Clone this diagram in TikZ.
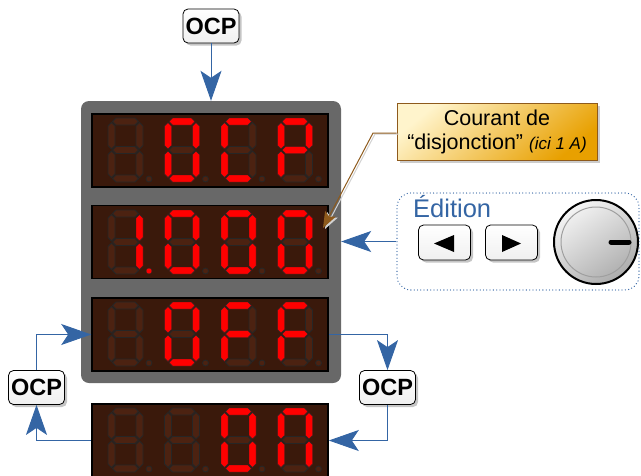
\documentclass[tikz,border=0pt]{standalone}
\usepackage{fontspec}
\setmainfont{Liberation Sans}
\usetikzlibrary{arrows.meta,shadows,calc}
\definecolor{lblue}{HTML}{3465A4}
\definecolor{dispbg}{HTML}{3A190B}
\definecolor{segoffc}{HTML}{4C2211}
\definecolor{segline}{HTML}{262626}
\definecolor{panelgray}{HTML}{686868}
\definecolor{callbrown}{HTML}{8E5A1C}
\definecolor{calllight}{HTML}{FFF4CC}
\definecolor{calldark}{HTML}{E8A000}
\tikzset{
  s0/.style={fill=segoffc, draw=segline, line width=0.8pt},
  s1/.style={fill=red, draw=segline, line width=0.4pt},
  panelbox/.style={fill=panelgray, rounded corners=8pt, minimum width=260pt, minimum height=282pt, inner sep=0pt},
  dispbox/.style={fill=dispbg, draw=black, line width=1.6pt, minimum width=236pt, minimum height=73pt, inner sep=0pt},
  btn/.style={draw=black, line width=0.8pt, top color=white, bottom color=gray!12, rounded corners=5pt,
    drop shadow={shadow xshift=2.5pt, shadow yshift=-2.5pt, fill=black!45}},
  ocp/.style={btn, font=\fontsize{23.5}{23.5}\selectfont\bfseries, minimum width=56pt, minimum height=34pt, inner sep=0pt},
  arrbtn/.style={btn, minimum width=52pt, minimum height=35pt, inner sep=0pt},
  conn/.style={draw=lblue, line width=0.9pt, -{Stealth[length=30pt,width=21pt,inset=7pt,fill=lblue]}},
  callbox/.style={draw=callbrown, line width=0.8pt, top color=calllight, bottom color=calldark, shading angle=40,
    minimum width=200pt, minimum height=57pt, inner sep=0pt, align=center,
    font=\fontsize{21.5}{24}\selectfont,
    drop shadow={shadow xshift=2.5pt, shadow yshift=-2.5pt, fill=black!40}},
  callarrow/.style={draw=callbrown, line width=1pt, -{Stealth[length=16pt,width=12pt,inset=3pt,fill=callbrown]}},
  callshadow/.style={draw=gray!35, line width=1pt, -{Stealth[length=16pt,width=12pt,inset=3pt,fill=gray!35]},
    transform canvas={xshift=2pt,yshift=-1pt}},
  editbox/.style={draw=lblue, line width=1.3pt, dash pattern=on 0pt off 3.3pt, line cap=round, rounded corners=14pt,
    minimum width=242pt, minimum height=97pt, inner sep=0pt},
}
\newcommand\hseg[4]{\path[#1] (#2,#4) -- (#2+3.5,#4-3.5) -- (#3-3.5,#4-3.5) -- (#3,#4) -- (#3-3.5,#4+3.5) -- (#2+3.5,#4+3.5) -- cycle;}
\newcommand\vseg[4]{\path[#1] (#2,#3) -- (#2+3.5,#3+3.5) -- (#2+3.5,#4-3.5) -- (#2,#4) -- (#2-3.5,#4-3.5) -- (#2-3.5,#3+3.5) -- cycle;}
\newcommand\sdigit[9]{%
  \begin{scope}[shift={(#1,#2)}]
    \hseg{s#3}{4.5}{30.5}{3.5}
    \vseg{s#4}{31.5}{4.5}{31}
    \vseg{s#5}{31.5}{33}{59.5}
    \hseg{s#6}{4.5}{30.5}{60.5}
    \vseg{s#7}{3.5}{33}{59.5}
    \vseg{s#8}{3.5}{4.5}{31}
    \hseg{s#9}{4.5}{30.5}{32}
  \end{scope}}
\newcommand\sdp[3]{\path[s#3] (#1+41,#2+61) circle[radius=3pt];}
\begin{document}
\begin{tikzpicture}[x=1pt,y=-1pt]
\useasboundingbox (0,0) rectangle (641,475);
% panel and displays
\node[panelbox] (panel) at (211,242) {};
\node[dispbox] (d1) at (210,150.5) {};
\node[dispbox] (d2) at (210,242) {};
\node[dispbox] (d3) at (210,334.5) {};
\node[dispbox] (d4) at (210,440.5) {};
% row 1 : OCP
\sdigit{108}{118}{0}{0}{0}{0}{0}{0}{0}
\sdigit{164.5}{118}{1}{1}{1}{1}{1}{1}{0}
\sdigit{221}{118}{1}{0}{0}{1}{1}{1}{0}
\sdigit{277.5}{118}{1}{1}{0}{0}{1}{1}{1}
\sdp{108}{118}{0}\sdp{164.5}{118}{0}\sdp{221}{118}{0}\sdp{277.5}{118}{0}
% row 2 : 1.000
\sdigit{108}{210}{0}{1}{1}{0}{0}{0}{0}
\sdigit{164.5}{210}{1}{1}{1}{1}{1}{1}{0}
\sdigit{221}{210}{1}{1}{1}{1}{1}{1}{0}
\sdigit{277.5}{210}{1}{1}{1}{1}{1}{1}{0}
\sdp{108}{210}{1}\sdp{164.5}{210}{0}\sdp{221}{210}{0}\sdp{277.5}{210}{0}
% row 3 : OFF
\sdigit{108}{302}{0}{0}{0}{0}{0}{0}{0}
\sdigit{164.5}{302}{1}{1}{1}{1}{1}{1}{0}
\sdigit{221}{302}{1}{0}{0}{0}{1}{1}{1}
\sdigit{277.5}{302}{1}{0}{0}{0}{1}{1}{1}
\sdp{108}{302}{0}\sdp{164.5}{302}{0}\sdp{221}{302}{0}\sdp{277.5}{302}{0}
% row 4 : ON
\sdigit{108}{408}{0}{0}{0}{0}{0}{0}{0}
\sdigit{164.5}{408}{0}{0}{0}{0}{0}{0}{0}
\sdigit{221}{408}{1}{1}{1}{1}{1}{1}{0}
\sdigit{277.5}{408}{1}{1}{1}{0}{1}{1}{0}
\sdp{108}{408}{0}\sdp{164.5}{408}{0}\sdp{221}{408}{0}\sdp{277.5}{408}{0}
% OCP buttons
\node[ocp] (ocpT) at (211,26) {OCP};
\node[ocp] (ocpL) at (36.5,387.5) {OCP};
\node[ocp] (ocpR) at (387.5,387.5) {OCP};
% connectors
\draw[conn] (ocpT.south) -- (panel.north);
\draw[conn] (ocpL.north) |- (d3.west);
\draw[conn] (d4.west) -| (ocpL.south);
\draw[conn] (d3.east) -| (ocpR.north);
\draw[conn] (ocpR.south) |- (d4.east);
% edition
\node[editbox] (edit) at (518,241.5) {};
\node[anchor=base west, text=lblue, font=\fontsize{25.5}{25.5}\selectfont, inner sep=0pt] (edlab) at (413,217) {Édition};
\node[arrbtn] (bl) at (444.5,242.5) {};
\node[arrbtn] (br) at (511.5,242.5) {};
\fill (bl.center) ++(-10.5,1) -- ++(20,-8.5) -- ++(0,17) -- cycle;
\fill (br.center) ++(9.5,1) -- ++(-19,-8.5) -- ++(0,17) -- cycle;
\node[circle, draw=black, line width=2pt, minimum size=84pt, inner sep=0pt, top color=gray!8, bottom color=gray!65, shading angle=35] (knob) at (596,242) {};
\draw[gray!75, line width=1pt] (knob.center) circle[radius=35pt];
\draw[line width=5pt, line cap=round] ($(knob.center)+(15,0)$) -- ($(knob.center)+(33,0)$);
\draw[conn] (edit.west) -- (edit.west -| panel.east);
% callout
\node[callbox] (call) at (497,131.5) {Courant de\\“disjonction” {\itshape\fontsize{17}{17}\selectfont(ici 1 A)}};
\coordinate (ctip) at (323,228);
\coordinate (cbend) at (373,133);
\draw[callshadow] (call.west |- cbend) -- (cbend) -- (ctip);
\draw[callarrow] (call.west |- cbend) -- (cbend) -- (ctip);
\end{tikzpicture}
\end{document}
